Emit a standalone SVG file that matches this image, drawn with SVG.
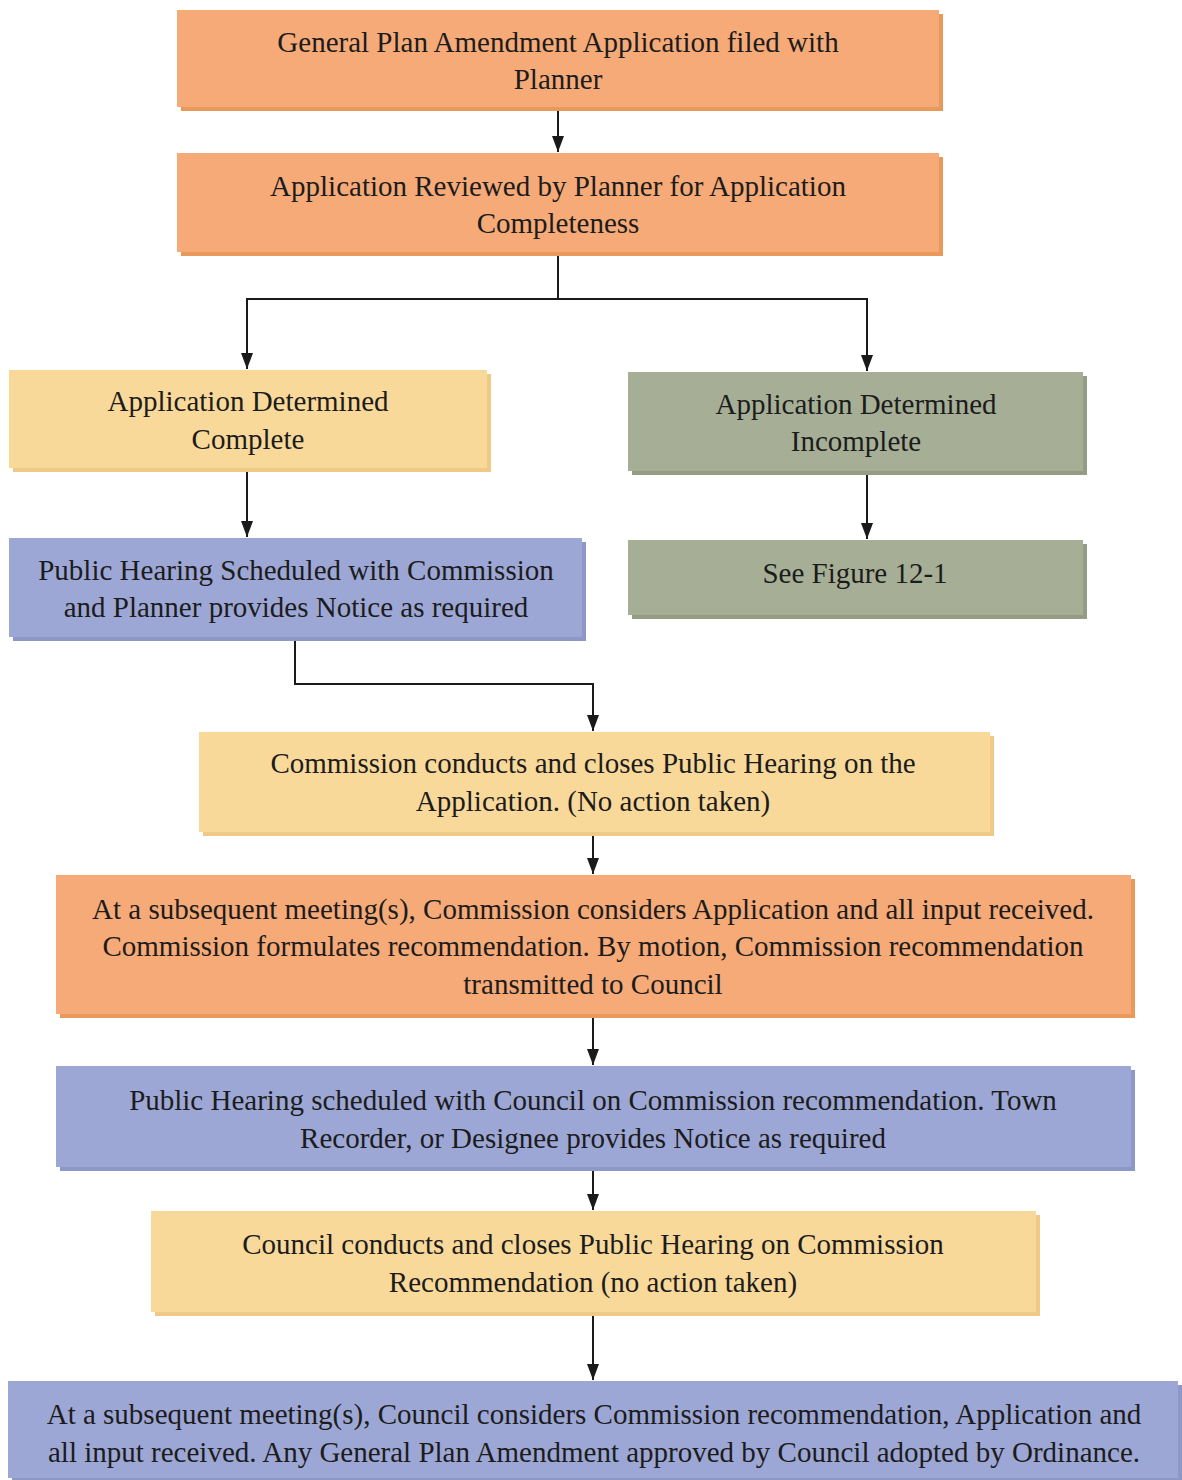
<svg xmlns="http://www.w3.org/2000/svg" width="1182" height="1480" viewBox="0 0 1182 1480">
<style>
text{font-family:"Liberation Serif","Times New Roman",serif;font-size:29px;fill:#1c1c1c;text-anchor:middle}
.or{fill:#f5aa78}.ors{fill:#e9995a}
.ye{fill:#f9d99a}.yes{fill:#f0c986}
.bl{fill:#9da7d5}.bls{fill:#8e98c8}
.gr{fill:#a6af96}.grs{fill:#939d84}
.c{fill:none;stroke:#1a1a1a;stroke-width:2}
</style>
<defs>
<marker id="ah" viewBox="0 0 16 12" refX="16" refY="6" markerWidth="16" markerHeight="12" markerUnits="userSpaceOnUse" orient="auto">
<path d="M0,0 L16,6 L0,12 Z" fill="#1a1a1a"/>
</marker>
</defs>
<rect width="1182" height="1480" fill="#ffffff"/>
<g id="connectors">
<path class="c" d="M558,107 V152" marker-end="url(#ah)"/>
<path class="c" d="M558,252 V299 H247 V369" marker-end="url(#ah)"/>
<path class="c" d="M558,299 H867 V371" marker-end="url(#ah)"/>
<path class="c" d="M247,468 V537" marker-end="url(#ah)"/>
<path class="c" d="M867,472 V539" marker-end="url(#ah)"/>
<path class="c" d="M295,638 V684 H593 V731" marker-end="url(#ah)"/>
<path class="c" d="M593,832 V874" marker-end="url(#ah)"/>
<path class="c" d="M593,1015 V1065" marker-end="url(#ah)"/>
<path class="c" d="M593,1168 V1210" marker-end="url(#ah)"/>
<path class="c" d="M593,1313 V1380" marker-end="url(#ah)"/>
</g>
<g id="n1">
<rect class="ors" x="181" y="14" width="762" height="97"/>
<rect class="or" x="177" y="10" width="762" height="97"/>
<text x="558" y="52">General Plan Amendment Application filed with</text>
<text x="558" y="89">Planner</text>
</g>
<g id="n2">
<rect class="ors" x="181" y="157" width="762" height="99"/>
<rect class="or" x="177" y="153" width="762" height="99"/>
<text x="558" y="196">Application Reviewed by Planner for Application</text>
<text x="558" y="233">Completeness</text>
</g>
<g id="n3">
<rect class="yes" x="13" y="374" width="478" height="98"/>
<rect class="ye" x="9" y="370" width="478" height="98"/>
<text x="248" y="411">Application Determined</text>
<text x="248" y="449">Complete</text>
</g>
<g id="n4">
<rect class="grs" x="632" y="376" width="455" height="99"/>
<rect class="gr" x="628" y="372" width="455" height="99"/>
<text x="856" y="414">Application Determined</text>
<text x="856" y="451">Incomplete</text>
</g>
<g id="n5">
<rect class="bls" x="13" y="542" width="573" height="99"/>
<rect class="bl" x="9" y="538" width="573" height="99"/>
<text x="296" y="580">Public Hearing Scheduled with Commission</text>
<text x="296" y="617">and Planner provides Notice as required</text>
</g>
<g id="n6">
<rect class="grs" x="632" y="544" width="455" height="75"/>
<rect class="gr" x="628" y="540" width="455" height="75"/>
<text x="855" y="583">See Figure 12-1</text>
</g>
<g id="n7">
<rect class="yes" x="203" y="736" width="791" height="100"/>
<rect class="ye" x="199" y="732" width="791" height="100"/>
<text x="593" y="773">Commission conducts and closes Public Hearing on the</text>
<text x="593" y="811">Application. (No action taken)</text>
</g>
<g id="n8">
<rect class="ors" x="60" y="879" width="1075" height="139"/>
<rect class="or" x="56" y="875" width="1075" height="139"/>
<text x="593" y="919">At a subsequent meeting(s), Commission considers Application and all input received.</text>
<text x="593" y="956">Commission formulates recommendation. By motion, Commission recommendation</text>
<text x="593" y="994">transmitted to Council</text>
</g>
<g id="n9">
<rect class="bls" x="60" y="1070" width="1075" height="101"/>
<rect class="bl" x="56" y="1066" width="1075" height="101"/>
<text x="593" y="1110">Public Hearing scheduled with Council on Commission recommendation. Town</text>
<text x="593" y="1148">Recorder, or Designee provides Notice as required</text>
</g>
<g id="n10">
<rect class="yes" x="155" y="1215" width="885" height="101"/>
<rect class="ye" x="151" y="1211" width="885" height="101"/>
<text x="593" y="1254">Council conducts and closes Public Hearing on Commission</text>
<text x="593" y="1292">Recommendation (no action taken)</text>
</g>
<g id="n11">
<rect class="bls" x="12" y="1385" width="1170" height="95"/>
<rect class="bl" x="8" y="1381" width="1170" height="97"/>
<text x="594" y="1424">At a subsequent meeting(s), Council considers Commission recommendation, Application and</text>
<text x="594" y="1462">all input received. Any General Plan Amendment approved by Council adopted by Ordinance.</text>
</g>
</svg>
